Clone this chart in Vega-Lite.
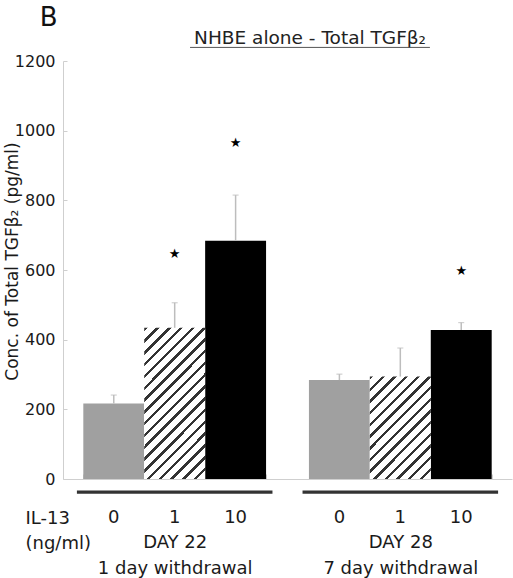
{
  "$schema": "https://vega.github.io/schema/vega-lite/v6.json",
  "autosize": "none",
  "width": 449,
  "height": 418,
  "padding": {"left": 63, "top": 61, "right": 1, "bottom": 99},
  "config": {"font": "DejaVu Sans", "view": {"stroke": null}, "axis": {"grid": false}},
  "data": {"values": [
    {"day": "22", "dose": "0", "value": 217, "hi": 241, "star": null},
    {"day": "22", "dose": "1", "value": 434, "hi": 506, "star": 646},
    {"day": "22", "dose": "10", "value": 684, "hi": 815, "star": 964},
    {"day": "28", "dose": "0", "value": 284, "hi": 301, "star": null},
    {"day": "28", "dose": "1", "value": 294, "hi": 376, "star": null},
    {"day": "28", "dose": "10", "value": 428, "hi": 449, "star": 598}
  ]},
  "layer": [
    {
      "mark": {"type": "bar"},
      "encoding": {
        "x": {"field": "day", "type": "nominal", "scale": {"domain": ["22", "28"], "paddingInner": 0.19, "paddingOuter": 0.09},
          "axis": {"orient": "bottom", "labelExpr": "datum.value == '22' ? ['DAY 22', '1 day withdrawal'] : datum.value == '28' ? ['DAY 28', '7 day withdrawal'] : ''", "labelAngle": 0, "labelFontSize": 18, "labelColor": "#1a1a1a", "labelLineHeight": 26, "labelBaseline": "alphabetic", "labelPadding": 73, "tickBand": "extent", "tickSize": -5, "tickColor": "#cfcfcf", "domainColor": "#cfcfcf", "title": ["IL-13", "(ng/ml)"], "titleFontSize": 18, "titleFontWeight": "normal", "titleColor": "#1a1a1a", "titleAlign": "left", "titleX": -38, "titleY": 44, "titleBaseline": "alphabetic", "titleLineHeight": 25}},
        "xOffset": {"field": "dose", "type": "nominal", "scale": {"domain": ["0", "1", "10"], "paddingInner": 0, "paddingOuter": 0}},
        "y": {"field": "value", "type": "quantitative", "scale": {"domain": [0, 1200], "nice": false},
          "axis": {"title": "Conc. of Total TGFβ₂ (pg/ml)", "format": "d", "values": [0, 200, 400, 600, 800, 1000, 1200], "domainColor": "#cfcfcf", "tickColor": "#cfcfcf", "tickSize": -4, "labelPadding": 12, "labelFontSize": 16, "labelColor": "#1a1a1a", "titleFontSize": 17, "titleFontWeight": "normal", "titleColor": "#1a1a1a", "titleX": -46, "titleY": 200, "titleBaseline": "alphabetic"}},
        "color": {"field": "dose", "type": "nominal", "scale": {"domain": ["0", "1", "10"], "range": ["#a0a0a0", "#ffffff", "#000000"]}, "legend": null}
      }
    },
    {
      "transform": [{"filter": "datum.day == '22' && datum.dose == '1'"}],
      "mark": {"type": "bar", "fill": {"gradient": "linear", "x1": 0, "y1": 0, "x2": 0.488, "y2": 1.207, "stops": [
        {"offset": 0, "color": "#333333"}, {"offset": 0.0167, "color": "#333333"}, {"offset": 0.0167, "color": "#ffffff"}, {"offset": 0.0556, "color": "#ffffff"},
        {"offset": 0.0556, "color": "#333333"}, {"offset": 0.0723, "color": "#333333"}, {"offset": 0.0723, "color": "#ffffff"}, {"offset": 0.1111, "color": "#ffffff"},
        {"offset": 0.1111, "color": "#333333"}, {"offset": 0.1278, "color": "#333333"}, {"offset": 0.1278, "color": "#ffffff"}, {"offset": 0.1667, "color": "#ffffff"},
        {"offset": 0.1667, "color": "#333333"}, {"offset": 0.1834, "color": "#333333"}, {"offset": 0.1834, "color": "#ffffff"}, {"offset": 0.2222, "color": "#ffffff"},
        {"offset": 0.2222, "color": "#333333"}, {"offset": 0.2389, "color": "#333333"}, {"offset": 0.2389, "color": "#ffffff"}, {"offset": 0.2778, "color": "#ffffff"},
        {"offset": 0.2778, "color": "#333333"}, {"offset": 0.2945, "color": "#333333"}, {"offset": 0.2945, "color": "#ffffff"}, {"offset": 0.3333, "color": "#ffffff"},
        {"offset": 0.3333, "color": "#333333"}, {"offset": 0.35, "color": "#333333"}, {"offset": 0.35, "color": "#ffffff"}, {"offset": 0.3889, "color": "#ffffff"},
        {"offset": 0.3889, "color": "#333333"}, {"offset": 0.4056, "color": "#333333"}, {"offset": 0.4056, "color": "#ffffff"}, {"offset": 0.4444, "color": "#ffffff"},
        {"offset": 0.4444, "color": "#333333"}, {"offset": 0.4611, "color": "#333333"}, {"offset": 0.4611, "color": "#ffffff"}, {"offset": 0.5, "color": "#ffffff"},
        {"offset": 0.5, "color": "#333333"}, {"offset": 0.5167, "color": "#333333"}, {"offset": 0.5167, "color": "#ffffff"}, {"offset": 0.5556, "color": "#ffffff"},
        {"offset": 0.5556, "color": "#333333"}, {"offset": 0.5723, "color": "#333333"}, {"offset": 0.5723, "color": "#ffffff"}, {"offset": 0.6111, "color": "#ffffff"},
        {"offset": 0.6111, "color": "#333333"}, {"offset": 0.6278, "color": "#333333"}, {"offset": 0.6278, "color": "#ffffff"}, {"offset": 0.6667, "color": "#ffffff"},
        {"offset": 0.6667, "color": "#333333"}, {"offset": 0.6834, "color": "#333333"}, {"offset": 0.6834, "color": "#ffffff"}, {"offset": 0.7222, "color": "#ffffff"},
        {"offset": 0.7222, "color": "#333333"}, {"offset": 0.7389, "color": "#333333"}, {"offset": 0.7389, "color": "#ffffff"}, {"offset": 0.7778, "color": "#ffffff"},
        {"offset": 0.7778, "color": "#333333"}, {"offset": 0.7945, "color": "#333333"}, {"offset": 0.7945, "color": "#ffffff"}, {"offset": 0.8333, "color": "#ffffff"},
        {"offset": 0.8333, "color": "#333333"}, {"offset": 0.85, "color": "#333333"}, {"offset": 0.85, "color": "#ffffff"}, {"offset": 0.8889, "color": "#ffffff"},
        {"offset": 0.8889, "color": "#333333"}, {"offset": 0.9056, "color": "#333333"}, {"offset": 0.9056, "color": "#ffffff"}, {"offset": 0.9444, "color": "#ffffff"},
        {"offset": 0.9444, "color": "#333333"}, {"offset": 0.9611, "color": "#333333"}, {"offset": 0.9611, "color": "#ffffff"}, {"offset": 1, "color": "#ffffff"}
      ]}},
      "encoding": {
        "x": {"field": "day", "type": "nominal"},
        "xOffset": {"field": "dose", "type": "nominal"},
        "y": {"field": "value", "type": "quantitative"}
      }
    },
    {
      "transform": [{"filter": "datum.day == '28' && datum.dose == '1'"}],
      "mark": {"type": "bar", "fill": {"gradient": "linear", "x1": 0, "y1": 0, "x2": 0.702, "y2": 1.178, "stops": [
        {"offset": 0, "color": "#333333"}, {"offset": 0.0214, "color": "#333333"}, {"offset": 0.0214, "color": "#ffffff"}, {"offset": 0.0714, "color": "#ffffff"},
        {"offset": 0.0714, "color": "#333333"}, {"offset": 0.0928, "color": "#333333"}, {"offset": 0.0928, "color": "#ffffff"}, {"offset": 0.1429, "color": "#ffffff"},
        {"offset": 0.1429, "color": "#333333"}, {"offset": 0.1643, "color": "#333333"}, {"offset": 0.1643, "color": "#ffffff"}, {"offset": 0.2143, "color": "#ffffff"},
        {"offset": 0.2143, "color": "#333333"}, {"offset": 0.2357, "color": "#333333"}, {"offset": 0.2357, "color": "#ffffff"}, {"offset": 0.2857, "color": "#ffffff"},
        {"offset": 0.2857, "color": "#333333"}, {"offset": 0.3071, "color": "#333333"}, {"offset": 0.3071, "color": "#ffffff"}, {"offset": 0.3571, "color": "#ffffff"},
        {"offset": 0.3571, "color": "#333333"}, {"offset": 0.3785, "color": "#333333"}, {"offset": 0.3785, "color": "#ffffff"}, {"offset": 0.4286, "color": "#ffffff"},
        {"offset": 0.4286, "color": "#333333"}, {"offset": 0.45, "color": "#333333"}, {"offset": 0.45, "color": "#ffffff"}, {"offset": 0.5, "color": "#ffffff"},
        {"offset": 0.5, "color": "#333333"}, {"offset": 0.5214, "color": "#333333"}, {"offset": 0.5214, "color": "#ffffff"}, {"offset": 0.5714, "color": "#ffffff"},
        {"offset": 0.5714, "color": "#333333"}, {"offset": 0.5928, "color": "#333333"}, {"offset": 0.5928, "color": "#ffffff"}, {"offset": 0.6429, "color": "#ffffff"},
        {"offset": 0.6429, "color": "#333333"}, {"offset": 0.6643, "color": "#333333"}, {"offset": 0.6643, "color": "#ffffff"}, {"offset": 0.7143, "color": "#ffffff"},
        {"offset": 0.7143, "color": "#333333"}, {"offset": 0.7357, "color": "#333333"}, {"offset": 0.7357, "color": "#ffffff"}, {"offset": 0.7857, "color": "#ffffff"},
        {"offset": 0.7857, "color": "#333333"}, {"offset": 0.8071, "color": "#333333"}, {"offset": 0.8071, "color": "#ffffff"}, {"offset": 0.8571, "color": "#ffffff"},
        {"offset": 0.8571, "color": "#333333"}, {"offset": 0.8785, "color": "#333333"}, {"offset": 0.8785, "color": "#ffffff"}, {"offset": 0.9286, "color": "#ffffff"},
        {"offset": 0.9286, "color": "#333333"}, {"offset": 0.95, "color": "#333333"}, {"offset": 0.95, "color": "#ffffff"}, {"offset": 1, "color": "#ffffff"}
      ]}},
      "encoding": {
        "x": {"field": "day", "type": "nominal"},
        "xOffset": {"field": "dose", "type": "nominal"},
        "y": {"field": "value", "type": "quantitative"}
      }
    },
    {
      "mark": {"type": "rule", "color": "#bdbdbd", "strokeWidth": 1.5},
      "encoding": {
        "x": {"field": "day", "type": "nominal"},
        "xOffset": {"field": "dose", "type": "nominal"},
        "y": {"field": "value", "type": "quantitative"},
        "y2": {"field": "hi"}
      }
    },
    {
      "mark": {"type": "tick", "color": "#bdbdbd", "size": 6, "thickness": 1.2, "orient": "horizontal"},
      "encoding": {
        "x": {"field": "day", "type": "nominal"},
        "xOffset": {"field": "dose", "type": "nominal"},
        "y": {"field": "hi", "type": "quantitative"}
      }
    },
    {
      "transform": [{"filter": "datum.star != null"}],
      "mark": {"type": "text", "text": "★", "fontSize": 13, "color": "#000000", "baseline": "middle", "align": "center"},
      "encoding": {
        "x": {"field": "day", "type": "nominal"},
        "xOffset": {"field": "dose", "type": "nominal"},
        "y": {"field": "star", "type": "quantitative"}
      }
    },
    {
      "mark": {"type": "text", "fontSize": 18, "color": "#1a1a1a", "baseline": "alphabetic", "align": "center"},
      "encoding": {
        "x": {"field": "day", "type": "nominal"},
        "xOffset": {"field": "dose", "type": "nominal"},
        "y": {"datum": -126, "type": "quantitative"},
        "text": {"field": "dose"}
      }
    },
    {
      "transform": [{"filter": "datum.dose == '0'"}],
      "mark": {"type": "bar", "width": {"band": 1.07}, "color": "#333333"},
      "encoding": {
        "x": {"field": "day", "type": "nominal"},
        "y": {"datum": -33, "type": "quantitative"},
        "y2": {"datum": -42}
      }
    },
    {
      "data": {"values": [{"label": "B"}]},
      "mark": {"type": "text", "fontSize": 26, "color": "#111111", "baseline": "alphabetic", "align": "center"},
      "encoding": {
        "x": {"datum": "22", "type": "nominal", "bandPosition": -0.19},
        "y": {"datum": 1300, "type": "quantitative"},
        "text": {"field": "label"}
      }
    },
    {
      "data": {"values": [{"label": "NHBE alone - Total TGFβ₂"}]},
      "mark": {"type": "text", "fontSize": 18.5, "color": "#222222", "baseline": "alphabetic", "align": "center"},
      "encoding": {
        "x": {"datum": "28", "type": "nominal", "bandPosition": 0.006},
        "y": {"datum": 1249, "type": "quantitative"},
        "text": {"field": "label"}
      }
    },
    {
      "data": {"values": [{"label": "underline"}]},
      "mark": {"type": "rule", "color": "#555555", "strokeWidth": 1},
      "encoding": {
        "x": {"datum": "22", "type": "nominal", "bandPosition": 0.584},
        "x2": {"datum": "28", "bandPosition": 0.662},
        "y": {"datum": 1239, "type": "quantitative"}
      }
    }
  ]
}
